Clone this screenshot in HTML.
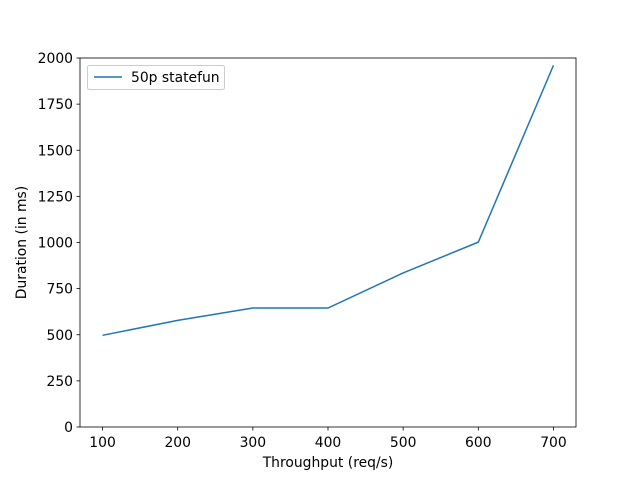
<!DOCTYPE html>
<html><head><meta charset="utf-8"><style>
body{margin:0;background:#fff;}
svg{display:block;font-family:"DejaVu Sans","Liberation Sans",sans-serif;}
</style></head><body>
<svg id="chart" width="640" height="480"></svg>
<script>
const categories=[100,200,300,400,500,600,700];
const durations=[497,578,645,645,835,1002,1960];
const xTicks=[100,200,300,400,500,600,700];
const yTicks=[0,250,500,750,1000,1250,1500,1750,2000];
const L=80,R=576,T=58,B=427;
const xMin=70,xMax=730,yMin=0,yMax=2000;
const FS=13.9;
const sx=v=>L+(v-xMin)/(xMax-xMin)*(R-L);
const sy=v=>B-(v-yMin)/(yMax-yMin)*(B-T);
const svg=document.getElementById('chart');
const NS='http://www.w3.org/2000/svg';
function mk(tag,attrs,parent){const e=document.createElementNS(NS,tag);for(const k in attrs)e.setAttribute(k,attrs[k]);(parent||svg).appendChild(e);return e;}
xTicks.forEach(t=>{
 const g=mk('g',{});
 
 
 mk('line',{x1:sx(t),x2:sx(t),y1:B,y2:B+3.5,stroke:'#000','stroke-width':0.8},g);
 const tx=mk('text',{x:sx(t),y:B+20,'font-size':FS,'text-anchor':'middle'},g);tx.textContent=t;
});
yTicks.forEach(t=>{
 const g=mk('g',{});
 
 
 mk('line',{x1:L-3.5,x2:L,y1:sy(t),y2:sy(t),stroke:'#000','stroke-width':0.8},g);
 const tx=mk('text',{x:L-7,y:sy(t)+5,'font-size':FS,'text-anchor':'end'},g);tx.textContent=t;
});
const line=mk('polyline',{points:categories.map((c,i)=>sx(c)+','+sy(durations[i])).join(' '),fill:'none',stroke:'#1f77b4','stroke-width':1.5});


const frame=mk('rect',{x:L,y:T,width:R-L,height:B-T,fill:'none',stroke:'#000','stroke-width':0.8});


const xt=mk('text',{x:(L+R)/2,y:467,'font-size':FS,'text-anchor':'middle'});xt.textContent='Throughput (req/s)';


const yt=mk('text',{x:0,y:0,'font-size':FS,'text-anchor':'middle',transform:`translate(26,${(T+B)/2}) rotate(-90)`});yt.textContent='Duration (in ms)';


const lg=mk('g',{});


mk('rect',{x:87.5,y:65.5,width:137,height:24,rx:2,fill:'#fff',stroke:'#ccc','stroke-width':1},lg);
mk('line',{x1:94,x2:122,y1:77,y2:77,stroke:'#1f77b4','stroke-width':1.5},lg);
const lt=mk('text',{x:131,y:82,'font-size':FS},lg);lt.textContent='50p statefun';
</script>
</body></html>
